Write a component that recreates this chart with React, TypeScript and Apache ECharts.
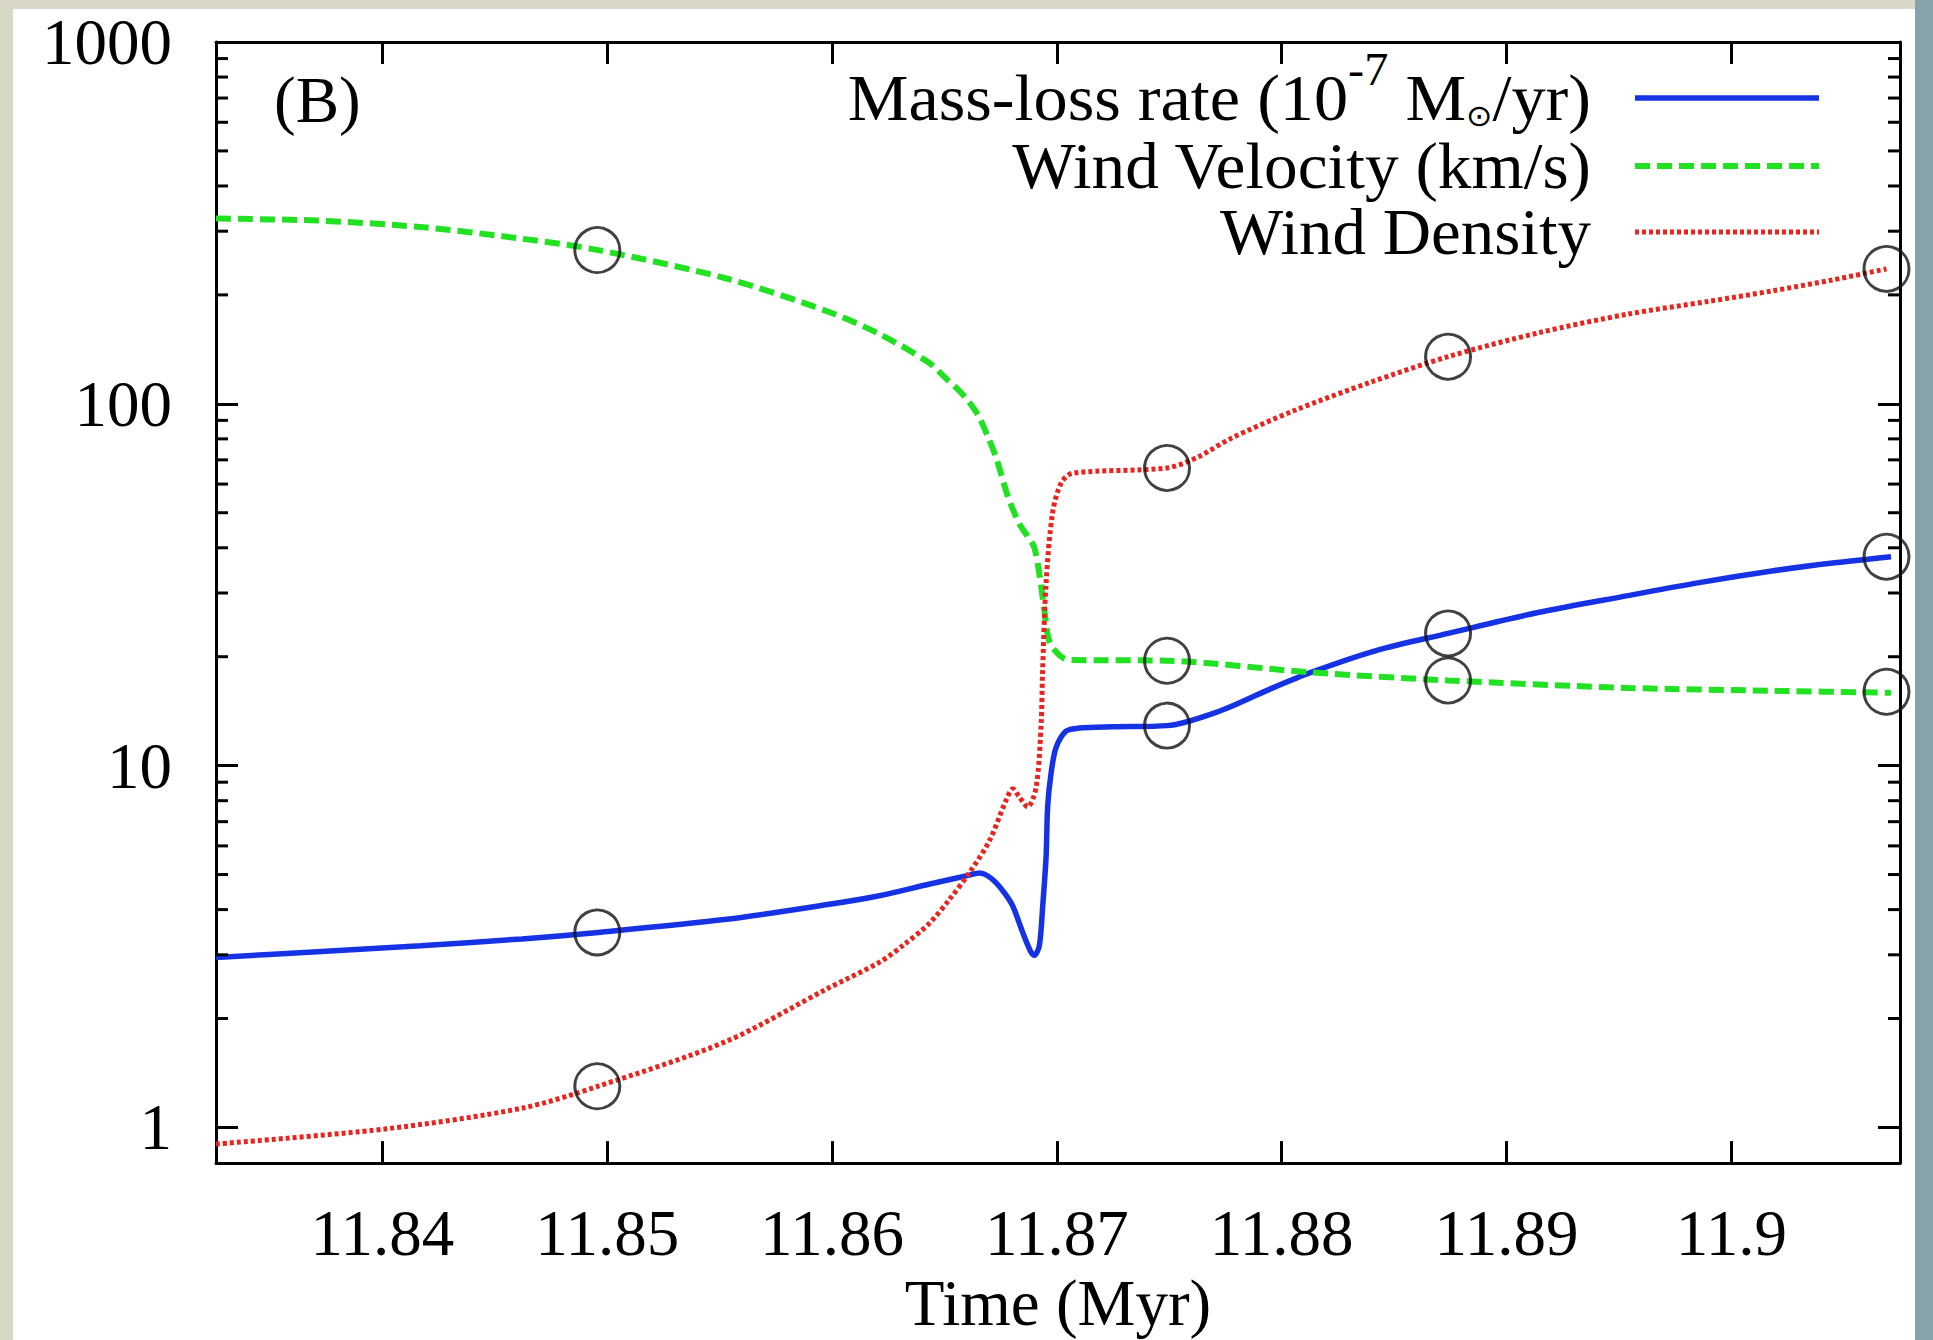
import React, { useEffect, useRef } from "react";
import * as echarts from "echarts";

// ---- axis ranges ----
const X_MIN = 11.8326;
const X_MAX = 11.9075;
const Y_MIN = 0.797;
const Y_MAX = 1000;

// ---- series: Mass-loss rate (10^-7 Msun/yr) ----
const MASS_LOSS_T = [
  11.8326, 11.8371, 11.8417, 11.8462, 11.8496, 11.8553, 11.8598, 11.8621, 11.8643, 11.8661,
  11.86656, 11.8669, 11.8673, 11.8677, 11.86804, 11.86848, 11.86885, 11.869, 11.86922, 11.86937,
  11.86952, 11.86959, 11.86974, 11.86996, 11.87041, 11.871, 11.8725, 11.8749, 11.8773, 11.8795,
  11.8813, 11.8842, 11.8874, 11.8914, 11.8954, 11.8985, 11.9018, 11.9045, 11.9071,
];
const MASS_LOSS_V = [
  2.95, 3.06, 3.18, 3.32, 3.46, 3.76, 4.13, 4.37, 4.7, 4.98,
  5.05, 4.97, 4.74, 4.42, 4.09, 3.46, 3.05, 2.99, 3.18, 4.09,
  5.6, 7.7, 9.5, 11.2, 12.45, 12.7, 12.8, 12.9, 14.2, 16.3,
  18.1, 20.8, 23.2, 26.5, 29.5, 32.0, 34.5, 36.3, 37.8,
];

// ---- series: Wind Velocity (km/s) ----
const VELOCITY_T = [
  11.8326, 11.8371, 11.8417, 11.8462, 11.8496, 11.8553, 11.8598, 11.8621, 11.8643, 11.8651,
  11.8657, 11.8661, 11.8665, 11.8669, 11.8673, 11.8678, 11.8683, 11.8687, 11.869, 11.86925,
  11.86944, 11.86967, 11.87011, 11.87056, 11.8749, 11.8813, 11.8874, 11.8954, 11.9018, 11.9071,
];
const VELOCITY_V = [
  325, 321, 308, 286, 266, 222, 180, 156, 130, 117,
  108, 101, 93, 82, 71, 56, 47, 43, 40, 33,
  27, 22, 20.2, 19.6, 19.5, 18.1, 17.2, 16.4, 16.1, 15.9,
];

// ---- series: Wind Density ----
const DENSITY_T = [
  11.8326, 11.8401, 11.8462, 11.8496, 11.8553, 11.8598, 11.8621, 11.8632, 11.8643, 11.8652,
  11.8661, 11.867, 11.86774, 11.86804, 11.86833, 11.8687, 11.86908, 11.8693, 11.86936, 11.86952,
  11.86981, 11.87019, 11.8707, 11.8749, 11.8763, 11.8777, 11.8805, 11.884, 11.8874, 11.8914,
  11.8954, 11.899, 11.9018, 11.9045, 11.9069,
];
const DENSITY_V = [
  0.9, 0.99, 1.13, 1.3, 1.73, 2.42, 2.86, 3.2, 3.65, 4.25,
  5.05, 6.2, 8.02, 8.63, 8.19, 7.69, 8.73, 13.0, 17.8, 32,
  50, 60.4, 64.3, 66.5, 71.4, 80, 95.5, 115, 135, 157,
  177, 192, 205, 220, 236,
];

// ---- circled model points ----
const MARKER_T = [11.84956, 11.8749, 11.8874, 11.9069];
const MARKER_MASS_LOSS = [3.46, 12.9, 23.2, 37.8];
const MARKER_VELOCITY = [266, 19.5, 17.2, 16.0];
const MARKER_DENSITY = [1.3, 66.5, 135, 236];

// ---- minor ticks of the log axis ----
const Y_MINOR = [2, 3, 4, 5, 6, 7, 8, 9, 20, 30, 40, 50, 60, 70, 80, 90, 200, 300, 400, 500, 600, 700, 800, 900];

// ---- texts ----
const X_TITLE = "Time (Myr)";
const PANEL_LABEL = "(B)";
const LEGEND_MASS = ["Mass-loss rate (10", "-7", " M", "\u2299", "/yr)"];
const LEGEND_VEL = "Wind Velocity (km/s)";
const LEGEND_DEN = "Wind Density";

const FONT = "'Liberation Serif', 'DejaVu Serif', 'Times New Roman', serif";
const FS = 65;
const BLUE = "#1533e4";
const GREEN = "#22e022";
const RED = "#e8241e";
const BEIGE = "#d9d8c6";
const STRIP = "#88a2ab";

const pairs = (t: number[], v: number[]) => t.map((x, i) => [x, v[i]]);

export default function App() {
  const ref = useRef<HTMLDivElement>(null);

  useEffect(() => {
    if (!ref.current) return;
    const chart = echarts.init(ref.current, undefined, { renderer: "svg" });

    const logLabel = (v: number) => {
      const e = Math.log10(v);
      const r = Math.round(e);
      return Math.abs(e - r) < 1e-6 ? String(Math.round(Math.pow(10, r))) : "";
    };

    const markerData = [
      ...pairs(MARKER_T, MARKER_MASS_LOSS),
      ...pairs(MARKER_T, MARKER_VELOCITY),
      ...pairs(MARKER_T, MARKER_DENSITY),
    ];

    const legendY = [98, 166, 232];
    const legendTextRight = 1591;
    const legendLineX1 = 1635;
    const legendLineX2 = 1819;

    const axisLine = { show: true, onZero: false, lineStyle: { color: "#000", width: 3 } };
    const axisTick = { show: true, inside: true, length: 22, lineStyle: { color: "#000", width: 3 } };

    const option: any = {
      animation: false,
      backgroundColor: "#ffffff",
      grid: { left: 216, top: 42, width: 1684, height: 1130, containLabel: false },
      xAxis: [
        {
          type: "value",
          position: "bottom",
          min: X_MIN,
          max: X_MAX,
          splitNumber: 7,
          name: X_TITLE,
          nameLocation: "middle",
          nameGap: 104,
          nameTextStyle: { fontFamily: FONT, fontSize: FS, color: "#000" },
          axisLine,
          axisTick,
          axisLabel: {
            show: true,
            margin: 37,
            fontFamily: FONT,
            fontSize: FS,
            color: "#000",
            showMinLabel: false,
            showMaxLabel: false,
          },
          splitLine: { show: false },
        },
        {
          type: "value",
          position: "top",
          min: X_MIN,
          max: X_MAX,
          splitNumber: 7,
          axisLine,
          axisTick,
          axisLabel: { show: false },
          splitLine: { show: false },
        },
      ],
      yAxis: [
        {
          type: "log",
          logBase: 10,
          position: "left",
          min: Y_MIN,
          max: Y_MAX,
          axisLine,
          axisTick,
          axisLabel: {
            show: true,
            margin: 44,
            fontFamily: FONT,
            fontSize: FS,
            color: "#000",
            showMinLabel: false,
            formatter: logLabel,
          },
          splitLine: { show: false },
        },
        {
          type: "log",
          logBase: 10,
          position: "right",
          min: Y_MIN,
          max: Y_MAX,
          axisLine,
          axisTick,
          axisLabel: { show: false },
          splitLine: { show: false },
        },
      ],
      series: [
        {
          type: "line",
          name: "Mass-loss rate",
          data: pairs(MASS_LOSS_T, MASS_LOSS_V),
          showSymbol: false,
          symbol: "none",
          smooth: 0.3,
          lineStyle: { color: BLUE, width: 5.5 },
          z: 3,
        },
        {
          type: "line",
          name: "Wind Velocity",
          data: pairs(VELOCITY_T, VELOCITY_V),
          showSymbol: false,
          symbol: "none",
          smooth: 0.3,
          lineStyle: { color: GREEN, width: 6, type: [15, 7] },
          z: 4,
        },
        {
          type: "line",
          name: "Wind Density",
          data: pairs(DENSITY_T, DENSITY_V),
          showSymbol: false,
          symbol: "none",
          smooth: 0.3,
          lineStyle: { color: RED, width: 5, type: [4, 3] },
          z: 5,
        },
        {
          type: "scatter",
          data: markerData,
          symbol: "circle",
          symbolSize: 45,
          clip: false,
          silent: true,
          itemStyle: { color: "rgba(0,0,0,0)", borderColor: "#111", borderWidth: 3 },
          z: 6,
        },
        {
          type: "custom",
          data: Y_MINOR.map((v) => [X_MIN, v]),
          clip: false,
          silent: true,
          z: 7,
          renderItem: (params: any, api: any) => {
            const v = api.value(1);
            const l = api.coord([X_MIN, v]);
            const r = api.coord([X_MAX, v]);
            return {
              type: "group",
              children: [
                { type: "line", shape: { x1: l[0], y1: l[1], x2: l[0] + 12, y2: l[1] }, style: { stroke: "#000", lineWidth: 3 } },
                { type: "line", shape: { x1: r[0], y1: r[1], x2: r[0] - 12, y2: r[1] }, style: { stroke: "#000", lineWidth: 3 } },
              ],
            };
          },
        },
      ],
      graphic: [
        { type: "rect", shape: { x: 0, y: 0, width: 13, height: 1340 }, style: { fill: BEIGE }, z: 100 },
        { type: "rect", shape: { x: 0, y: 0, width: 1933, height: 9 }, style: { fill: BEIGE }, z: 100 },
        { type: "rect", shape: { x: 1915, y: 0, width: 18, height: 1340 }, style: { fill: STRIP }, z: 101 },
        {
          type: "text",
          x: 274,
          y: 100,
          style: { text: PANEL_LABEL, font: `${FS}px ${FONT}`, fill: "#000", align: "left", verticalAlign: "middle" },
          z: 10,
        },
        {
          type: "text",
          x: legendTextRight,
          y: legendY[0],
          scaleX: 1.05,
          style: {
            text:
              `{n|${LEGEND_MASS[0]}}{sup|${LEGEND_MASS[1]}}{n|${LEGEND_MASS[2]}}{sub|${LEGEND_MASS[3]}}{n|${LEGEND_MASS[4]}}`,
            align: "right",
            verticalAlign: "middle",
            fill: "#000",
            rich: {
              n: { fontFamily: FONT, fontSize: FS, lineHeight: 104, verticalAlign: "middle", fill: "#000" },
              sup: { fontFamily: FONT, fontSize: 46, lineHeight: 46, verticalAlign: "top", fill: "#000" },
              sub: {
                fontFamily: "'DejaVu Sans', sans-serif",
                fontSize: 30,
                lineHeight: 30,
                padding: [0, 0, 20, 0],
                verticalAlign: "bottom",
                fill: "#000",
              },
            },
          },
          z: 10,
        },
        {
          type: "text",
          x: legendTextRight,
          y: legendY[1],
          scaleX: 1.035,
          style: { text: LEGEND_VEL, font: `${FS}px ${FONT}`, fill: "#000", align: "right", verticalAlign: "middle" },
          z: 10,
        },
        {
          type: "text",
          x: legendTextRight,
          y: legendY[2],
          scaleX: 1.03,
          style: { text: LEGEND_DEN, font: `${FS}px ${FONT}`, fill: "#000", align: "right", verticalAlign: "middle" },
          z: 10,
        },
        {
          type: "line",
          shape: { x1: legendLineX1, y1: legendY[0], x2: legendLineX2, y2: legendY[0] },
          style: { stroke: BLUE, lineWidth: 5.5 },
          z: 10,
        },
        {
          type: "line",
          shape: { x1: legendLineX1, y1: legendY[1], x2: legendLineX2, y2: legendY[1] },
          style: { stroke: GREEN, lineWidth: 6, lineDash: [15, 7] },
          z: 10,
        },
        {
          type: "line",
          shape: { x1: legendLineX1, y1: legendY[2], x2: legendLineX2, y2: legendY[2] },
          style: { stroke: RED, lineWidth: 5, lineDash: [4, 3] },
          z: 10,
        },
      ],
    };

    chart.setOption(option);
    return () => chart.dispose();
  }, []);

  return (
    <div
      ref={ref}
      style={{ position: "fixed", left: 0, top: 0, width: 1933, height: 1340 }}
    />
  );
}
